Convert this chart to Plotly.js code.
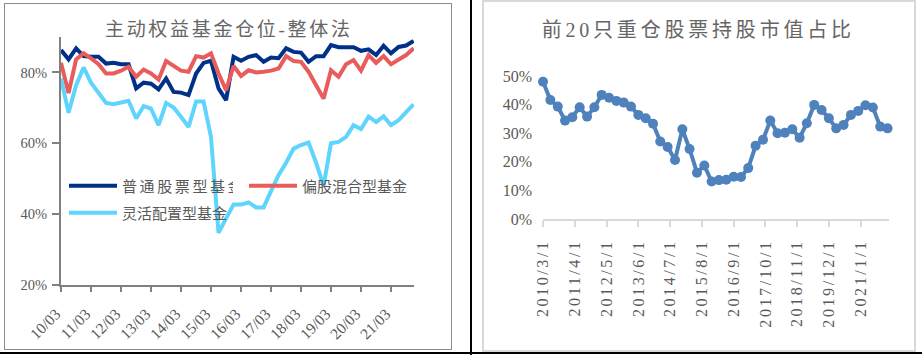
<!DOCTYPE html>
<html>
<head>
<meta charset="utf-8">
<script src="https://cdn.plot.ly/plotly-3.0.1.min.js"></script>
<style>
html,body{margin:0;padding:0;background:#fff;}
body{width:922px;height:355px;overflow:hidden;position:relative;}
.frame{position:absolute;box-sizing:border-box;}
#leftBox{left:4px;top:3px;width:448px;height:347px;border:1px solid #8c8c8c;}
#rightBox{left:482px;top:0px;width:434px;height:352px;border:2px solid #d9d9d9;}
#vline{left:470px;top:0;width:2px;height:355px;background:#000;}
#hline{left:0;top:352px;width:922px;height:2px;background:#000;}
.plot{position:absolute;top:0;height:355px;}
#left{left:0;width:460px;}
#right{left:470px;width:452px;}
#left .gtitle{letter-spacing:2.7px;}
#right .gtitle{letter-spacing:3.8px;}
#left .legendtext{letter-spacing:2.6px;}
#right .xtick text{letter-spacing:2.6px;}
</style>
</head>
<body>
<div class="frame" id="leftBox"></div>
<div class="frame" id="rightBox"></div>
<div class="frame" id="vline"></div>
<div class="frame" id="hline"></div>
<div class="plot" id="left"></div>
<div class="plot" id="right"></div>
<script>
// ---------- data ----------
const quarters = [
  '2010-03-01','2010-06-01','2010-09-01','2010-12-01',
  '2011-03-01','2011-06-01','2011-09-01','2011-12-01',
  '2012-03-01','2012-06-01','2012-09-01','2012-12-01',
  '2013-03-01','2013-06-01','2013-09-01','2013-12-01',
  '2014-03-01','2014-06-01','2014-09-01','2014-12-01',
  '2015-03-01','2015-06-01','2015-09-01','2015-12-01',
  '2016-03-01','2016-06-01','2016-09-01','2016-12-01',
  '2017-03-01','2017-06-01','2017-09-01','2017-12-01',
  '2018-03-01','2018-06-01','2018-09-01','2018-12-01',
  '2019-03-01','2019-06-01','2019-09-01','2019-12-01',
  '2020-03-01','2020-06-01','2020-09-01','2020-12-01',
  '2021-03-01','2021-06-01','2021-09-01','2021-12-01'
];

const seriesNames = ['普通股票型基金', '偏股混合型基金', '灵活配置型基金'];

const stockFund = [86.3, 83.7, 86.8, 84.6, 84.4, 84.4, 82.5, 82.7, 82.3, 82.3, 75.5, 77.1,
  76.8, 75.2, 78.3, 74.5, 74.3, 73.6, 79.7, 82.7, 83.3, 75.5, 72.2, 84.4,
  83.3, 84.4, 84.9, 83.0, 84.2, 84.0, 86.8, 85.8, 85.6, 83.0, 84.6, 84.6,
  87.7, 87.1, 87.1, 87.1, 86.1, 86.5, 84.9, 87.5, 85.4, 87.2, 87.6, 88.9];

const mixedFund = [82.7, 74.2, 83.7, 85.4, 84.0, 82.3, 79.7, 79.7, 80.5, 81.6, 78.8, 80.8,
  79.7, 78.0, 83.2, 81.8, 80.5, 80.2, 84.6, 84.2, 85.4, 79.7, 75.0, 81.8,
  79.0, 80.6, 80.0, 80.2, 80.5, 81.1, 84.6, 83.2, 83.0, 80.2, 76.1, 72.6,
  80.6, 78.8, 82.3, 83.5, 80.5, 84.9, 82.7, 84.6, 82.3, 83.5, 84.9, 86.8];

const flexFund = [78.3, 68.6, 76.4, 81.4, 77.1, 74.2, 71.4, 71.0, 71.4, 72.0, 67.0, 70.5,
  69.8, 65.1, 71.4, 70.1, 67.5, 64.6, 71.8, 71.8, 61.8, 34.7, 38.8, 42.7,
  42.7, 43.3, 41.9, 41.9, 46.5, 51.0, 54.5, 58.5, 59.5, 60.2, 54.5, 48.0,
  60.0, 60.4, 61.8, 65.1, 64.0, 67.5, 66.0, 67.6, 65.1, 66.5, 68.8, 71.0];

const top20Share = [48.0, 41.6, 39.3, 34.4, 35.6, 39.1, 35.8, 39.1, 43.4, 42.4, 41.3, 40.7,
  39.3, 36.4, 35.2, 33.3, 27.1, 25.2, 20.6, 31.4, 24.5, 16.2, 18.7, 13.1,
  13.6, 13.7, 14.8, 14.7, 17.8, 25.6, 27.7, 34.4, 30.0, 30.2, 31.4, 28.4,
  33.5, 39.9, 38.1, 35.2, 31.7, 32.9, 36.4, 37.8, 39.8, 39.0, 32.3, 31.7];

const leftTickDates = ['2010-03-01','2011-03-01','2012-03-01','2013-03-01','2014-03-01','2015-03-01',
  '2016-03-01','2017-03-01','2018-03-01','2019-03-01','2020-03-01','2021-03-01'];
const leftTickText = ['10/03','11/03','12/03','13/03','14/03','15/03','16/03','17/03','18/03','19/03','20/03','21/03'];

const rightTickDates = ['2010-03-01','2011-04-01','2012-05-01','2013-06-01','2014-07-01','2015-08-01',
  '2016-09-01','2017-10-01','2018-11-01','2019-12-01','2021-01-01'];
const rightTickText = ['2010/3/1','2011/4/1','2012/5/1','2013/6/1','2014/7/1','2015/8/1',
  '2016/9/1','2017/10/1','2018/11/1','2019/12/1','2021/1/1'];

const leftTitle = '主动权益基金仓位-整体法';
const rightTitle = '前20只重仓股票持股市值占比';

// ---------- style ----------
const FONT = '"Liberation Serif", "Noto Sans CJK SC", serif';
const CJK = '"Liberation Serif", "Noto Sans CJK SC", sans-serif';
const colors = ['#003087', '#e85d5c', '#5fd4fd'];
const TXT = '#595959';

const leftTraces = [stockFund, mixedFund, flexFund].map((vals, i) => ({
  type: 'scatter', mode: 'lines', x: quarters, y: vals, name: seriesNames[i],
  line: {color: colors[i], width: 4}, legend: i === 0 ? 'legend' : (i === 1 ? 'legend2' : 'legend3'),
  hoverinfo: 'skip'
}));

const legendBase = {
  orientation: 'h', xanchor: 'left', yanchor: 'middle', itemwidth: 48,
  bgcolor: 'rgba(0,0,0,0)', borderwidth: 0,
  font: {family: CJK, size: 15, color: TXT}
};

const leftLayout = {
  width: 460, height: 355,
  margin: {l: 61, r: 46, t: 37, b: 70, pad: 0},
  paper_bgcolor: 'rgba(0,0,0,0)', plot_bgcolor: 'rgba(0,0,0,0)',
  title: {text: leftTitle, xref: 'container', x: 0.4975, xanchor: 'center',
          yref: 'container', y: 1 - 29 / 355, yanchor: 'middle',
          font: {family: CJK, size: 19, color: '#666666'}},
  xaxis: {type: 'date', range: ['2010-03-01', '2021-12-06'], tickmode: 'array',
          tickvals: leftTickDates, ticktext: leftTickText, tickangle: -45,
          showline: true, linecolor: '#808080', linewidth: 2,
          ticks: 'outside', ticklen: 5, tickwidth: 2, tickcolor: '#808080',
          showgrid: false, zeroline: false, ticklabelstandoff: 7, ticklabelshift: -5,
          tickfont: {family: FONT, size: 15.5, color: TXT}},
  yaxis: {range: [20, 90], tickmode: 'linear', tick0: 20, dtick: 20, ticksuffix: '%',
          showline: true, linecolor: '#808080', linewidth: 2,
          ticks: 'outside', ticklen: 7, tickwidth: 2, tickcolor: '#808080',
          showgrid: false, zeroline: false, ticklabelstandoff: 2,
          tickfont: {family: FONT, size: 14.5, color: TXT}},
  legend: Object.assign({}, legendBase, {x: 0.0085, y: 0.399}),
  legend2: Object.assign({}, legendBase, {x: 0.5184, y: 0.399}),
  legend3: Object.assign({}, legendBase, {x: 0.0085, y: 0.290}),
  showlegend: true
};

const rightTraces = [{
  type: 'scatter', mode: 'lines+markers', x: quarters, y: top20Share,
  name: rightTitle, line: {color: '#4f81bd', width: 4},
  marker: {color: '#4f81bd', size: 10}, cliponaxis: false, hoverinfo: 'skip'
}];

const rightLayout = {
  width: 452, height: 355,
  margin: {l: 73, r: 33, t: 76, b: 136, pad: 0},
  paper_bgcolor: 'rgba(0,0,0,0)', plot_bgcolor: 'rgba(0,0,0,0)',
  showlegend: false,
  title: {text: rightTitle, xref: 'container', x: 0.505, xanchor: 'center',
          yref: 'container', y: 1 - 29.5 / 355, yanchor: 'middle',
          font: {family: CJK, size: 20, color: '#666666'}},
  xaxis: {type: 'date', range: ['2010-03-01', '2021-12-19'], tickmode: 'array',
          tickvals: rightTickDates, ticktext: rightTickText, tickangle: -90,
          showline: true, linecolor: '#d9d9d9', linewidth: 2,
          ticks: 'outside', ticklen: 6, tickwidth: 2, tickcolor: '#d9d9d9',
          showgrid: false, zeroline: false, ticklabelstandoff: 6,
          tickfont: {family: FONT, size: 16, color: TXT}},
  yaxis: {range: [0, 50], tickmode: 'linear', tick0: 0, dtick: 10, ticksuffix: '%',
          showline: false, ticks: '', showgrid: false, zeroline: false,
          ticklabelstandoff: 10,
          tickfont: {family: FONT, size: 16, color: TXT}}
};

const cfg = {staticPlot: true, displayModeBar: false};
Plotly.newPlot('left', leftTraces, leftLayout, cfg);
Plotly.newPlot('right', rightTraces, rightLayout, cfg);
</script>
</body>
</html>
